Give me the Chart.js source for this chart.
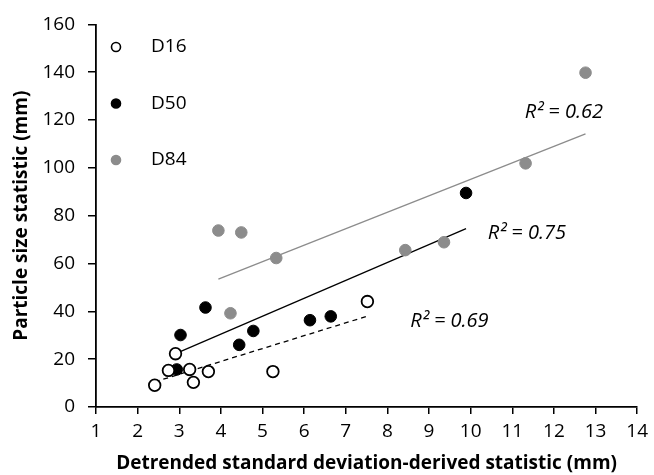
<!DOCTYPE html>
<html>
<head>
<meta charset="utf-8">
<script src="https://cdn.jsdelivr.net/npm/chart.js@4.4.0/dist/chart.umd.min.js"></script>
<style>
  html, body { margin: 0; padding: 0; background: #fff; }
  #wrap { width: 654px; height: 475px; }
</style>
</head>
<body>
<div id="wrap"><canvas id="chart"></canvas></div>
<script>
// values
var d16X = [2.41, 2.74, 2.91, 3.25, 3.34, 3.70, 5.25, 7.52];
var d16Y = [9.1, 15.3, 22.3, 15.7, 10.3, 14.8, 14.8, 44.1];
var d50X = [2.94, 3.03, 3.63, 4.44, 4.78, 6.14, 6.64, 9.89];
var d50Y = [15.7, 30.1, 41.6, 26.0, 31.8, 36.3, 37.9, 89.5];
var d84X = [4.23, 3.94, 4.49, 5.33, 8.43, 9.36, 11.32, 12.76];
var d84Y = [39.2, 73.8, 73.0, 62.3, 65.6, 68.9, 101.9, 139.8];

// trendline end points [x, y]
var d16Fit = [[2.41, 10.5], [7.52, 38.0]];
var d50Fit = [[2.94, 22.5], [9.89, 74.6]];
var d84Fit = [[3.94, 53.5], [12.76, 114.2]];

var r2Labels = ['R\u00b2 = 0.69', 'R\u00b2 = 0.75', 'R\u00b2 = 0.62'];
var r2Pos = [[8.55, 35.9], [10.41, 72.6], [11.30, 123.3]];

var seriesNames = ['D16', 'D50', 'D84'];

var FONT = '"Open Sans", "DejaVu Sans", sans-serif';
var GREY = '#8c8c8c';

function pts(xs, ys) {
   return xs.map(function(x, i) { return {x: x, y: ys[i]}; });
}
function line(p) {
   return p.map(function(q) { return {x: q[0], y: q[1]}; });
}

// legend drawn inside the plot, top left
var insideLegend = {
   id: 'insideLegend',
   afterDraw: function(chart) {
      var ctx = chart.ctx;
      ctx.save();
      ctx.font = '19px ' + FONT;
      ctx.textBaseline = 'middle';
      ctx.textAlign = 'left';
      for (var i = 0; i < 3; i++) {
         var ds = chart.data.datasets[i];
         var y = 47 + i * 56.5;
         ctx.beginPath();
         ctx.arc(116, y, 4.5, 0, Math.PI * 2);
         ctx.fillStyle = ds.backgroundColor;
         ctx.fill();
         ctx.lineWidth = 1.6;
         ctx.strokeStyle = ds.borderColor;
         ctx.stroke();
         ctx.fillStyle = '#000';
         ctx.fillText(seriesNames[i], 151, y);
      }
      ctx.restore();
   }
};

// R squared labels next to the trend lines
var r2Text = {
   id: 'r2Text',
   afterDraw: function(chart) {
      var ctx = chart.ctx;
      var sx = chart.scales.x, sy = chart.scales.y;
      ctx.save();
      ctx.font = 'italic 20px ' + FONT;
      ctx.fillStyle = '#000';
      ctx.textBaseline = 'middle';
      ctx.textAlign = 'left';
      r2Labels.forEach(function(t, i) {
         ctx.fillText(t, sx.getPixelForValue(r2Pos[i][0]), sy.getPixelForValue(r2Pos[i][1]));
      });
      ctx.restore();
   }
};

new Chart(document.getElementById('chart'), {
   type: 'scatter',
   data: {
      datasets: [
         { label: 'D16', data: pts(d16X, d16Y), backgroundColor: '#fff', borderColor: '#000',
           borderWidth: 1.8, pointRadius: 5.8, order: 1 },
         { label: 'D50', data: pts(d50X, d50Y), backgroundColor: '#000', borderColor: '#000',
           borderWidth: 1, pointRadius: 5.8, order: 1 },
         { label: 'D84', data: pts(d84X, d84Y), backgroundColor: GREY, borderColor: GREY,
           borderWidth: 1, pointRadius: 5.8, order: 1 },
         { label: 'fit16', data: line(d16Fit), showLine: true, borderColor: '#000', borderWidth: 1.3,
           borderDash: [5, 4], pointRadius: 0, order: 2 },
         { label: 'fit50', data: line(d50Fit), showLine: true, borderColor: '#000', borderWidth: 1.3,
           pointRadius: 0, order: 2 },
         { label: 'fit84', data: line(d84Fit), showLine: true, borderColor: GREY, borderWidth: 1.3,
           pointRadius: 0, order: 2 }
      ]
   },
   options: {
      responsive: true,
      maintainAspectRatio: false,
      animation: false,
      layout: { padding: { top: 19, right: 14, left: 0, bottom: 0 } },
      plugins: {
         legend: { display: false },
         tooltip: { enabled: false }
      },
      scales: {
         x: {
            type: 'linear',
            min: 1, max: 14,
            ticks: { stepSize: 1, color: '#000', font: { family: FONT, size: 19 }, padding: 6 },
            grid: { drawOnChartArea: false, tickLength: 7, color: '#000', lineWidth: 1.5 },
            border: { color: '#000', width: 1.8 },
            title: { display: true, text: 'Detrended standard deviation-derived statistic (mm)',
                     color: '#000', font: { family: FONT, size: 19, weight: 'bold' }, padding: { top: 0, bottom: 0 } },
            afterFit: function(s) { s.height = 68; }
         },
         y: {
            min: 0, max: 160,
            ticks: { stepSize: 20, color: '#000', font: { family: FONT, size: 19 }, padding: 13 },
            grid: { drawOnChartArea: false, tickLength: 8, color: '#000', lineWidth: 1.5 },
            border: { color: '#000', width: 1.8 },
            title: { display: true, text: 'Particle size statistic (mm)',
                     color: '#000', font: { family: FONT, size: 19, weight: 'bold' }, padding: { top: 10, bottom: 4 } },
            afterFit: function(s) { s.width = 96; }
         }
      }
   },
   plugins: [insideLegend, r2Text]
});
</script>
</body>
</html>
